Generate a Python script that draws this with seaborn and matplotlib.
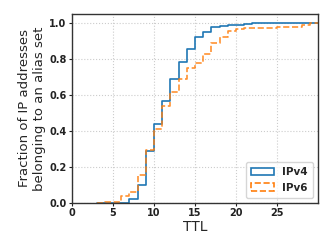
import numpy as np
import pandas as pd
import matplotlib
matplotlib.use("Agg")
import matplotlib.pyplot as plt
import seaborn as sns
from matplotlib.patches import Patch

# TTL bins [k, k+1) and cumulative fraction
ttl = list(range(3, 30))
ipv4_cdf = [0, 0, 0, 0, 0.022, 0.10, 0.29, 0.437, 0.568, 0.69, 0.785, 0.857,
            0.92, 0.95, 0.975, 0.985, 0.988, 0.99, 0.995, 0.998, 0.999, 1.0,
            1.0, 1.0, 1.0, 1.0, 1.0]
ipv6_cdf = [0.002, 0.003, 0.005, 0.037, 0.061, 0.154, 0.293, 0.41, 0.539,
            0.615, 0.69, 0.748, 0.776, 0.828, 0.89, 0.924, 0.956, 0.965,
            0.97, 0.97, 0.97, 0.97, 0.978, 0.978, 0.978, 0.99, 1.0]

df = pd.DataFrame({
    "ttl": ttl * 2,
    "w": list(np.diff(ipv4_cdf, prepend=0)) + list(np.diff(ipv6_cdf, prepend=0)),
    "proto": ["IPv4"] * len(ttl) + ["IPv6"] * len(ttl),
})

sns.set_style("ticks")
plt.rcParams["font.family"] = ["DejaVu Sans"]

fig, ax = plt.subplots(figsize=(3.32, 2.49), dpi=100)
blue, orange = "#1f77b4", "#ff7f0e"

sns.histplot(data=df[df.proto == "IPv4"], x="ttl", weights="w", binwidth=1,
             binrange=(3, 30), cumulative=True, element="step", fill=False,
             color=blue, linewidth=1.2, ax=ax)
sns.histplot(data=df[df.proto == "IPv6"], x="ttl", weights="w", binwidth=1,
             binrange=(3, 30), cumulative=True, element="step", fill=False,
             color=orange, linewidth=1.2, linestyle="--", alpha=0.85, ax=ax)

ax.set_xlim(0, 30)
ax.set_ylim(0, 1.05)
ax.set_xticks([0, 5, 10, 15, 20, 25])
ax.set_yticks([0.0, 0.2, 0.4, 0.6, 0.8, 1.0])
ax.set_yticklabels(["0.0", "0.2", "0.4", "0.6", "0.8", "1.0"])
ax.grid(True, linestyle=":", color="#cccccc", linewidth=0.8)
for lab in ax.get_xticklabels() + ax.get_yticklabels():
    lab.set_fontweight("bold")
ax.tick_params(labelsize=7, length=2.5, width=0.8, pad=1.5, colors="#222222")
for s in ax.spines.values():
    s.set_color("#333333")
    s.set_linewidth(1.0)

ax.set_xlabel("TTL", fontsize=10, labelpad=1)
ax.set_ylabel("Fraction of IP addresses\nbelonging to an alias set",
              fontsize=9.5, labelpad=2)

handles = [Patch(facecolor="none", edgecolor=blue, linewidth=1.2, label="IPv4"),
           Patch(facecolor="none", edgecolor=orange, linewidth=1.2,
                 linestyle="--", label="IPv6")]
ax.legend(handles=handles, loc="lower right", prop={"weight": "bold", "size": 7.5},
          frameon=True, fancybox=True, handlelength=2.2, borderpad=0.5)

fig.subplots_adjust(left=0.217, right=0.958, top=0.944, bottom=0.185)
fig.savefig("out.png", dpi=100)
